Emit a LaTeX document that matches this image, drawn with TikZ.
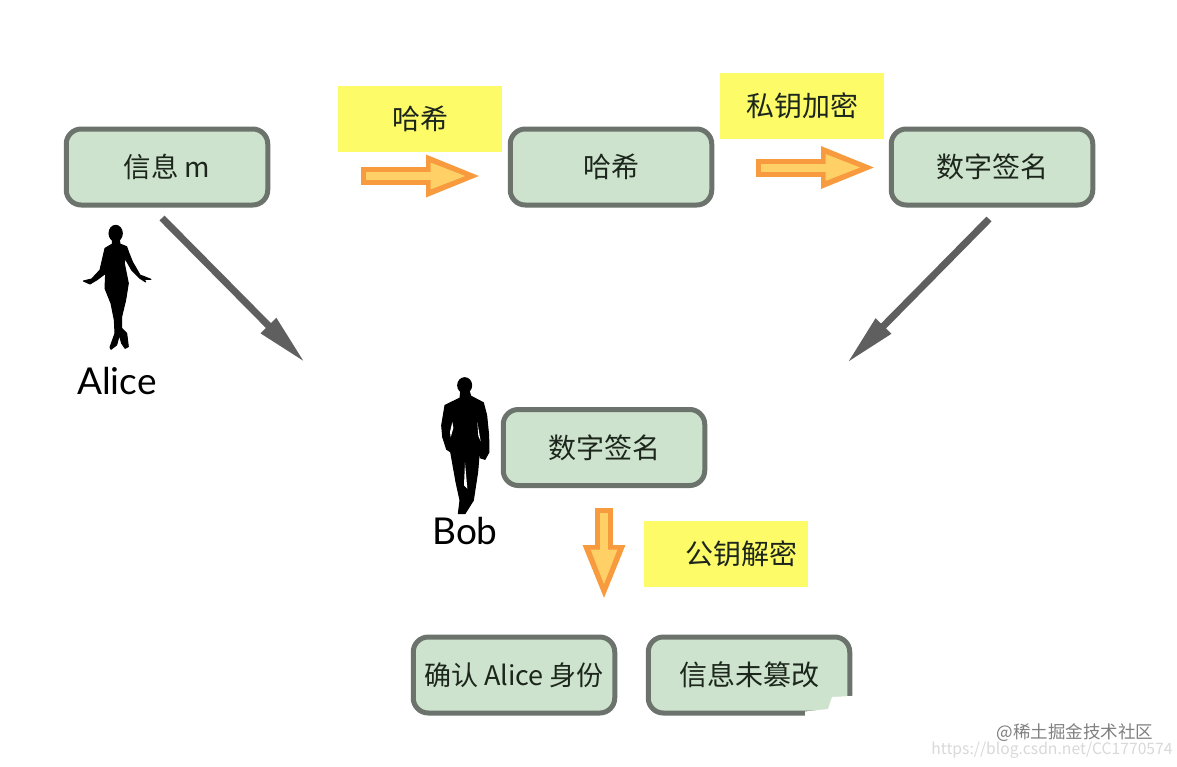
\documentclass[tikz,border=0pt]{standalone}
\usepackage{fontspec}
\setmainfont{Noto Sans CJK SC}
\newfontfamily\latinfont{Lato}
\usetikzlibrary{arrows.meta,calc}
\definecolor{boxfill}{HTML}{CDE3CD}
\definecolor{boxedge}{HTML}{6C736C}
\definecolor{noteyellow}{HTML}{FDFB68}
\definecolor{arrowgrey}{HTML}{5F5F5F}
\definecolor{orangeedge}{HTML}{F89A3E}
\definecolor{orangefill}{HTML}{FFD066}
\definecolor{inktext}{HTML}{1C261C}
\tikzset{
  x=1pt,y=-1pt,
  stepbox/.style={draw=boxedge,fill=boxfill,line width=5pt,rounded corners=15pt,
    minimum width=201.5pt,minimum height=76pt,inner sep=0pt,text=inktext,font=\fontsize{28}{30}\selectfont},
  notebox/.style={fill=noteyellow,minimum width=164pt,minimum height=66pt,inner sep=0pt,
    text=inktext,font=\fontsize{28}{30}\selectfont},
  greyarrow/.style={draw=arrowgrey,line width=7pt,-{Triangle[length=52pt,width=20pt,fill=arrowgrey]}},
  orangeouter/.style={draw=orangeedge,line width=18pt,-{Triangle[length=56pt,width=38pt,fill=orangeedge]}},
  orangeinner/.style={draw=orangefill,line width=8pt,-{Triangle[length=36pt,width=24pt,fill=orangefill]}},
  personname/.style={font=\latinfont\fontsize{37}{40}\selectfont,text=black,inner sep=0pt},
  silhouette/.style={fill=black,draw=black,line width=1pt}
}
\newcommand{\orangearrow}[2]{%
  \draw[orangeouter] (#1) -- (#2);
  \draw[orangeinner] ($(#1)!5pt!(#2)$) -- ($(#2)!15.3pt!(#1)$);
}
\begin{document}
\begin{tikzpicture}
\useasboundingbox (0,0) rectangle (1177,766);
\fill[white] (0,0) rectangle (1177,766);
% notes
\node[notebox] (note1) at (420,119) {哈希};
\node[notebox] (note2) at (802,106) {私钥加密};
\node[notebox,text width=142pt,align=right] (note3) at (726,554) {公钥解密};
% boxes
\node[stepbox,font=\fontsize{27.5}{30}\selectfont] (info) at (167,167) {信息 m};
\node[stepbox] (hash) at (611,167) {哈希};
\node[stepbox] (sign) at (992,167) {数字签名};
\node[stepbox] (bobsign) at (604,447.5) {数字签名};
\node[stepbox,font=\fontsize{27}{30}\selectfont] (identity) at (514,675) {确认 Alice 身份};
\node[stepbox] (intact) at (749,675) {信息未篡改};
% erased corner
\fill[white] (805,711.5) -- (828,709) -- (832,697) -- (860,695.5) -- (860,726) -- (805,726) -- cycle;
% grey arrows
\coordinate (g1s) at (162,218);
\coordinate (g1e) at (305,362.5);
\coordinate (g2s) at (989,219);
\coordinate (g2e) at (847,363);
\draw[greyarrow] (g1s) -- (g1e);
\draw[greyarrow] (g2s) -- (g2e);
% orange arrows
\coordinate (o1s) at (361,176);
\coordinate (o1e) at (482,176);
\coordinate (o2s) at (756,167.5);
\coordinate (o2e) at (877,167.5);
\coordinate (o3s) at (604,508);
\coordinate (o3e) at (604,601);
\orangearrow{o1s}{o1e}
\orangearrow{o2s}{o2e}
\orangearrow{o3s}{o3e}
% Alice
\begin{scope}[shift={(75,220)},x=0.3333pt,y=-0.3333pt]
\fill[silhouette] (122,40) ellipse [x radius=20,y radius=24];
\fill[silhouette,line join=round] (112,58) -- (133,58) -- (135,72) -- (155,80) -- (162,100) -- (172,125) -- (195,165) -- (228,178) -- (208,178) -- (212,186) -- (195,175) -- (170,150) -- (150,115) -- (148,130) -- (160,190) -- (152,240) -- (140,290) -- (140,325) -- (155,340) -- (160,380) -- (150,385) -- (140,370) -- (133,345) -- (125,375) -- (108,388) -- (105,382) -- (120,340) -- (118,300) -- (108,250) -- (90,205) -- (92,160) -- (65,180) -- (45,192) -- (25,183) -- (50,177) -- (75,150) -- (90,85) -- (112,72) -- cycle;
\end{scope}
\node[personname] (alice) at (117,381) {Alice};
% Bob
\begin{scope}[shift={(430,372)},x=0.3333pt,y=-0.3333pt]
\fill[silhouette] (104,40) ellipse [x radius=21,y radius=23];
\fill[silhouette,line join=round] (92,58) -- (118,58) -- (122,72) -- (160,92) -- (170,130) -- (176,190) -- (177,240) -- (165,262) -- (152,258) -- (148,240) -- (143,300) -- (130,385) -- (105,425) -- (85,425) -- (90,385) -- (78,330) -- (62,240) -- (50,232) -- (38,195) -- (35,160) -- (45,100) -- (90,78) -- cycle;
\fill[white] (67,150) -- (70,168) -- (62,196) -- (60,180) -- cycle;
\fill[white] (142,150) -- (152,208) -- (145,192) -- cycle;
\fill[white] (105,272) -- (112,350) -- (102,340) -- cycle;
\end{scope}
\node[personname] (bob) at (465,531) {Bob};
% watermark
\node[inner sep=0pt,text=black!15,font=\fontsize{15.7}{18}\selectfont] (wm2) at (1052,750) {https://blog.csdn.net/CC1770574};
\node[inner sep=0pt,text=black!50,font=\fontsize{17.5}{20}\selectfont] (wm1) at (1075,733) {@稀土掘金技术社区};
\end{tikzpicture}
\end{document}
